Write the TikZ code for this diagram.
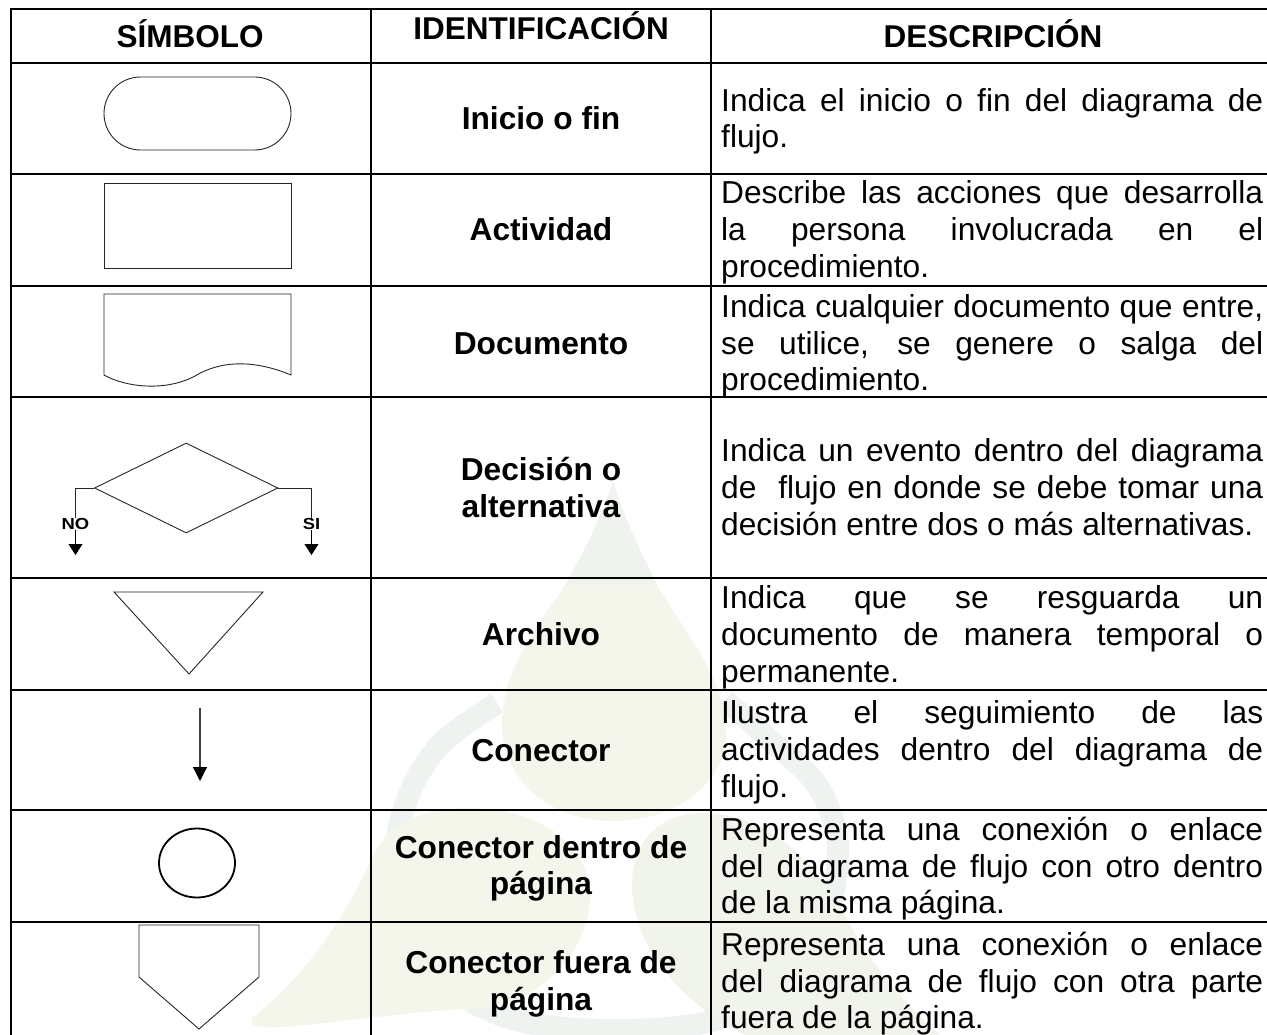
\documentclass[tikz,border=0pt]{standalone}
\usepackage{fontspec}
\setmainfont{Liberation Sans}
\usetikzlibrary{shapes.geometric,shapes.misc,arrows.meta}
\definecolor{dropc}{HTML}{F4F6EC}
\definecolor{dropt}{HTML}{EFF3EE}
\definecolor{leafl}{HTML}{F4F6EB}
\definecolor{leafr}{HTML}{F0F4EB}
\definecolor{ringc}{HTML}{EFF3F0}
\newcommand{\jline}[1]{\hbox to 542pt{\spaceskip=0.278em plus 1fil\relax #1}}
\newcommand{\nline}[1]{\hbox{#1}}
\tikzset{
  grid/.style={line width=2pt,black},
  shp/.style={line width=0.9pt,draw=black!85},
  desc/.style={anchor=base west,inner sep=0pt,font=\fontsize{31.7}{37}\selectfont},
  lab/.style={anchor=base,inner sep=0pt,font=\fontsize{31.7}{37}\selectfont\bfseries},
  head/.style={anchor=base,inner sep=0pt,font=\fontsize{31.5}{37}\selectfont\bfseries},
  tag/.style={inner sep=0pt,font=\fontsize{16}{16}\selectfont\bfseries,xscale=1.15},
  tipa/.style={-{Triangle[length=11pt,width=14pt,color=black,fill=black]}},
}
\begin{document}
\begin{tikzpicture}[x=1pt,y=-1pt]
\useasboundingbox (0,0) rectangle (1267,1035);
% watermark
\draw[ringc,line width=22pt] plot[smooth,tension=0.6] coordinates {(497,703) (440,745) (407,800) (398,860) (425,960) (500,1015) (612,1030) (730,1015) (810,950) (838,860) (820,790) (770,740) (725,700)};
\fill[leafl] (253,1017) .. controls (290,990) and (340,930) .. (371,860) .. controls (385,825) and (420,808) .. (470,808) .. controls (545,808) and (590,850) .. (590,895) .. controls (590,945) and (550,995) .. (490,1008) .. controls (400,1010) and (300,1030) .. (260,1027) .. controls (250,1025) and (250,1020) .. (253,1017) -- cycle;
\fill[leafr] (632,880) .. controls (635,835) and (665,812) .. (705,813) .. controls (770,815) and (815,860) .. (850,925) .. controls (870,960) and (900,1000) .. (940,1035) -- (745,1035) .. controls (675,1000) and (630,940) .. (632,880) -- cycle;
\fill[dropc] (613,482) .. controls (600,520) and (585,550) .. (565,585) .. controls (535,630) and (502,670) .. (502,725) .. controls (502,780) and (550,821) .. (612,821) .. controls (680,821) and (726,780) .. (726,735) .. controls (726,680) and (690,640) .. (657,585) .. controls (640,550) and (625,520) .. (613,482) -- cycle;
\fill[dropt] (613,482) .. controls (600,520) and (585,550) .. (565,585) -- (657,585) .. controls (640,550) and (625,520) .. (613,482) -- cycle;
% grid
\draw[grid] (10,9) -- (1267,9);
\foreach \yy in {63,174,286,397,578,690,810,922} \draw[grid] (10,\yy) -- (1267,\yy);
\foreach \xx in {11,371,711} \draw[grid] (\xx,9) -- (\xx,1035);
% headers
\node[head] (h1) at (190,48) {SÍMBOLO};
\node[head] (h2) at (541,40) {IDENTIFICACIÓN};
\node[head] (h3) at (993,48) {DESCRIPCIÓN};
% symbols
\node[shp,rounded rectangle,minimum width=187pt,minimum height=73pt,inner sep=0pt] (term) at (197.5,113.5) {};
\node[shp,rectangle,minimum width=187pt,minimum height=85pt,inner sep=0pt] (act) at (197.5,225.5) {};
\draw[shp,line join=miter] (104,294) -- (291,294) -- (291,375) .. controls (260,362) and (225,358) .. (195,376) .. controls (165,392) and (125,387) .. (104,375) -- cycle;
\node[shp,diamond,minimum width=183.5pt,minimum height=90pt,inner sep=0pt] (dec) at (186.2,488) {};
\node[tag] (no) at (75.5,524) {NO};
\node[tag] (si) at (311.5,524) {SI};
\coordinate (not) at (75.5,555);
\coordinate (sit) at (311.5,555);
\draw[shp] (dec.west) -| (no.north);
\draw[shp] (dec.east) -| (si.north);
\draw[shp,draw=black,tipa] (no.south) -- (not);
\draw[shp,draw=black,tipa] (si.south) -- (sit);
\draw[shp,line join=miter] (114,592) -- (263,592) -- (189,674) -- cycle;
\coordinate (ca) at (200,708);
\coordinate (cb) at (200,781);
\draw[line width=1.2pt,draw=black!75,-{Triangle[length=14pt,width=14pt,color=black,fill=black]}] (ca) -- (cb);
\node[ellipse,draw=black,line width=1.8pt,minimum width=76pt,minimum height=69pt,inner sep=0pt] (circ) at (197,863) {};
\draw[shp,line join=miter] (139,925) -- (259,925) -- (259,977) -- (199,1029) -- (139,977) -- cycle;
% labels
\node[lab] (l1) at (541,130) {Inicio o fin};
\node[lab] (l2) at (541,241) {Actividad};
\node[lab] (l3) at (541,354) {Documento};
\node[lab] (l4a) at (541,480) {Decisión o};
\node[lab] (l4b) at (541,517) {alternativa};
\node[lab] (l5) at (541,645) {Archivo};
\node[lab] (l6) at (541,761) {Conector};
\node[lab] (l7a) at (541,858) {Conector dentro de};
\node[lab] (l7b) at (541,894) {página};
\node[lab] (l8a) at (541,973) {Conector fuera de};
\node[lab] (l8b) at (541,1010) {página};
% descriptions
\node[desc] (d1a) at (721,112) {\jline{Indica el inicio o fin del diagrama de}};
\node[desc] (d1b) at (721,148) {\nline{flujo.}};
\node[desc] (d2a) at (721,204) {\jline{Describe las acciones que desarrolla}};
\node[desc] (d2b) at (721,241) {\jline{la persona involucrada en el}};
\node[desc] (d2c) at (721,277) {\nline{procedimiento.}};
\node[desc] (d3a) at (721,317) {\jline{Indica cualquier documento que entre,}};
\node[desc] (d3b) at (721,354) {\jline{se utilice, se genere o salga del}};
\node[desc] (d3c) at (721,390) {\nline{procedimiento.}};
\node[desc] (d4a) at (721,461) {\jline{Indica un evento dentro del diagrama}};
\node[desc] (d4b) at (721,498) {\jline{de\ \ flujo en donde se debe tomar una}};
\node[desc] (d4c) at (721,535) {\nline{decisión entre dos o más alternativas.}};
\node[desc] (d5a) at (721,608) {\jline{Indica que se resguarda un}};
\node[desc] (d5b) at (721,645) {\jline{documento de manera temporal o}};
\node[desc] (d5c) at (721,682) {\nline{permanente.}};
\node[desc] (d6a) at (721,723) {\jline{Ilustra el seguimiento de las}};
\node[desc] (d6b) at (721,760) {\jline{actividades dentro del diagrama de}};
\node[desc] (d6c) at (721,797) {\nline{flujo.}};
\node[desc] (d7a) at (721,840) {\jline{Representa una conexión o enlace}};
\node[desc] (d7b) at (721,877) {\jline{del diagrama de flujo con otro dentro}};
\node[desc] (d7c) at (721,913) {\nline{de la misma página.}};
\node[desc] (d8a) at (721,955) {\jline{Representa una conexión o enlace}};
\node[desc] (d8b) at (721,992) {\jline{del diagrama de flujo con otra parte}};
\node[desc] (d8c) at (721,1028) {\nline{fuera de la página.}};
\end{tikzpicture}
\end{document}
